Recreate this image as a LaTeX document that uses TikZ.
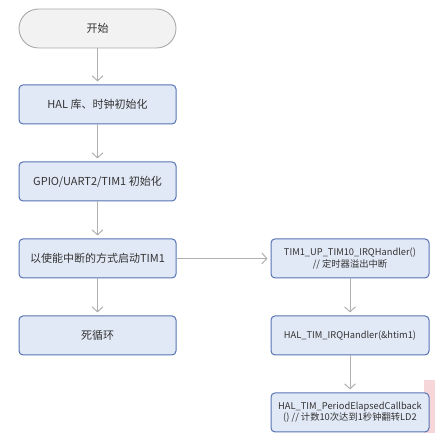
\documentclass[tikz,border=0pt]{standalone}
\usepackage{fontspec}
\setmainfont{Noto Sans CJK SC}
\usetikzlibrary{shapes.geometric, arrows.meta, positioning}
\definecolor{mfill}{HTML}{E2E9F6}
\definecolor{mblue}{HTML}{5573B3}
\definecolor{mgray}{HTML}{A9A9A9}
\definecolor{mlight}{HTML}{F2F2F2}
\definecolor{mline}{HTML}{B0B0B0}
\definecolor{mpink}{HTML}{F6D6D9}
\tikzstyle{terminal} = [rectangle, rounded corners=19.5pt, minimum width=157pt, minimum height=39pt, text centered, draw=mgray, line width=0.9pt, fill=mlight]
\tikzstyle{process} = [rectangle, rounded corners=4pt, minimum width=157pt, minimum height=39pt, text centered, draw=mblue, line width=1pt, fill=mfill]
\tikzstyle{handler} = [process, minimum width=158pt, inner sep=2pt, font=\fontsize{9.3}{11.5}\selectfont]
\tikzstyle{flow} = [draw=mline, line width=1pt, ->, >={Straight Barb[length=5pt,width=11pt]}, shorten >=3pt]
\begin{document}
\begin{tikzpicture}[x=1pt, y=1pt, align=center, node distance=37pt, font=\fontsize{11}{13}\selectfont, text=black!80]
  \useasboundingbox (0,0) rectangle (435,-441);
  \fill [mpink] (424,-380) rectangle (435,-433);
  \node (start) [terminal] at (97.5,-28.5) {开始};
  \node (halinit) [process, below=36pt of start] {HAL 库、时钟初始化};
  \node (periph) [process, below=of halinit] {GPIO/UART2/TIM1 初始化};
  \node (timstart) [process, below=of periph] {以使能中断的方式启动TIM1};
  \node (loop) [process, below=of timstart] {死循环};
  \node (irq) [handler, right=94pt of timstart] {TIM1\_UP\_TIM10\_IRQHandler()\\// 定时器溢出中断};
  \node (halirq) [handler, below=of irq] {HAL\_TIM\_IRQHandler(\&htim1)};
  \node (callback) [handler, below=of halirq] {HAL\_TIM\_PeriodElapsedCallback\\() // 计数10次达到1秒钟翻转LD2};
  \draw [flow] (start) -- (halinit);
  \draw [flow] (halinit) -- (periph);
  \draw [flow] (periph) -- (timstart);
  \draw [flow] (timstart) -- (loop);
  \draw [flow] (timstart) -- (irq);
  \draw [flow] (irq) -- (halirq);
  \draw [flow] (halirq) -- (callback);
\end{tikzpicture}
\end{document}
